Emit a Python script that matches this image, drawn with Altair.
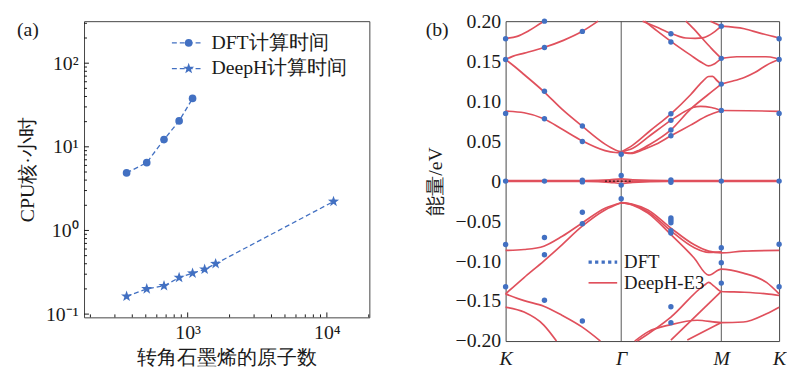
import altair as alt
import pandas as pd

FONT = "Liberation Serif"
BLUE = "#4270c2"
RED = "#e0505c"
INK = "#1a1a1a"
# five-pointed star as an SVG path in the unit square (Vega has no built-in "star")
STAR = ("M0,-1 L0.235,-0.324 L0.951,-0.309 L0.38,0.124 L0.588,0.809 "
        "L0,0.4 L-0.588,0.809 L-0.38,0.124 L-0.951,-0.309 L-0.235,-0.324 Z")

# ---------------- panel (a): timing data ----------------
atoms_dft = [364, 508, 676, 868, 1084]
hours_dft = [4.88, 6.47, 12.2, 20.4, 37.9]
atoms_deeph = [364, 508, 676, 868, 1084, 1324, 1588, 11164]
hours_deeph = [0.163, 0.200, 0.218, 0.273, 0.308, 0.343, 0.400, 2.22]
legend_a = ["DFT计算时间", "DeepH计算时间"]
x_title_a = "转角石墨烯的原子数"
y_title_a = "CPU核·小时"
x_major_a = [1000, 10000]
x_major_labels_a = ["10³", "10⁴"]
x_minor_a = [200, 300, 400, 500, 600, 700, 800, 900,
             2000, 3000, 4000, 5000, 6000, 7000, 8000, 9000, 20000]
y_major_a = [0.1, 1, 10, 100]
y_major_labels_a = ["10⁻¹", "10⁰", "10¹", "10²"]
y_minor_a = [0.2, 0.3, 0.4, 0.5, 0.6, 0.7, 0.8, 0.9,
             2, 3, 4, 5, 6, 7, 8, 9, 20, 30, 40, 50, 60, 70, 80, 90, 200, 300]

# ---------------- panel (b): band structure ----------------
k_pos = [0.0, 1.0, 1.866, 2.366]
k_labels = ["K", "Γ", "M", "K"]
e_ticks = [0.2, 0.15, 0.1, 0.05, 0, -0.05, -0.1, -0.15, -0.2]

C1 = [(0, 0.0875), (0.16, 0.0855), (0.33, 0.078), (0.49, 0.0648), (0.66, 0.0505), (0.86, 0.0381), (0.95, 0.0358), (1.0, 0.0355)]
C2 = [(0, 0.152), (0.08, 0.143), (0.162, 0.133), (0.33, 0.112), (0.49, 0.0896), (0.66, 0.069), (0.86, 0.0463), (0.95, 0.039), (1.0, 0.0365)]
C3 = [(0, 0.152), (0.06, 0.156), (0.162, 0.160), (0.33, 0.167), (0.5, 0.176), (0.66, 0.187), (0.8, 0.2)]
C4 = [(0, 0.1785), (0.1, 0.181), (0.2, 0.188), (0.3, 0.197), (0.335, 0.2)]
L1 = [(1, 0.0365), (1.1, 0.045), (1.25, 0.063), (1.43, 0.0842), (1.6, 0.108), (1.7, 0.124), (1.757, 0.1308), (1.79, 0.131), (1.83, 0.1255), (1.866, 0.1213)]
L2 = [(1, 0.0365), (1.1, 0.041), (1.25, 0.057), (1.43, 0.076), (1.55, 0.087), (1.62, 0.092), (1.687, 0.0935), (1.78, 0.092), (1.866, 0.0883)]
L3 = [(1, 0.0365), (1.08, 0.035), (1.16, 0.039), (1.25, 0.046), (1.43, 0.064), (1.6, 0.090), (1.75, 0.108), (1.866, 0.1213)]
L4 = [(1, 0.0365), (1.08, 0.0345), (1.2, 0.040), (1.3, 0.046), (1.43, 0.0566), (1.6, 0.070), (1.75, 0.082), (1.866, 0.088)]
U1 = [(1.185, 0.2), (1.3, 0.193), (1.43, 0.1847), (1.5, 0.181), (1.559, 0.179), (1.64, 0.1785), (1.715, 0.1795), (1.8, 0.186), (1.866, 0.1938)]
U2 = [(1.202, 0.2), (1.3, 0.189), (1.43, 0.1748), (1.601, 0.1575), (1.7, 0.148), (1.757, 0.144), (1.8, 0.146), (1.866, 0.1534)]
U3 = [(1.559, 0.2), (1.63, 0.19), (1.698, 0.179), (1.78, 0.166), (1.866, 0.1534)]
U4 = [(1.772, 0.2), (1.866, 0.1938)]
M1 = [(1.866, 0.1938), (2.065, 0.1905), (2.2, 0.185), (2.366, 0.179)]
M2 = [(1.866, 0.1534), (2.0, 0.1555), (2.25, 0.1555), (2.33, 0.154), (2.366, 0.152)]
M3 = [(1.866, 0.1213), (1.95, 0.1245), (2.065, 0.1296), (2.16, 0.136), (2.257, 0.145), (2.366, 0.152)]
M4 = [(1.866, 0.0883), (2.1, 0.088), (2.366, 0.0873)]
V1 = [(0, -0.0867), (0.16, -0.0855), (0.33, -0.0814), (0.49, -0.069), (0.66, -0.0526), (0.86, -0.034), (1.0, -0.027)]
V2 = [(0, -0.141), (0.16, -0.1206), (0.33, -0.1), (0.49, -0.0793), (0.66, -0.0567), (0.86, -0.036), (1.0, -0.027)]
V3 = [(0, -0.141), (0.16, -0.1494), (0.33, -0.1564), (0.49, -0.168), (0.66, -0.1823), (0.82, -0.2)]
V4 = [(0, -0.1576), (0.16, -0.1638), (0.33, -0.180), (0.44, -0.2)]
W1 = [(1, -0.027), (1.1, -0.029), (1.231, -0.036), (1.43, -0.0587), (1.629, -0.0793), (1.757, -0.0876), (1.866, -0.0897), (2.057, -0.0876), (2.366, -0.0867)]
W2 = [(1, -0.027), (1.1, -0.0295), (1.231, -0.0382), (1.43, -0.0622), (1.629, -0.083), (1.757, -0.089), (1.866, -0.0885)]
W3 = [(1, -0.027), (1.1, -0.030), (1.231, -0.040), (1.43, -0.0669), (1.629, -0.0958), (1.757, -0.1176), (1.866, -0.110), (2.057, -0.115), (2.257, -0.1267), (2.366, -0.141)]
W4 = [(1.14, -0.2), (1.43, -0.170), (1.72, -0.130), (1.757, -0.1267), (1.8, -0.131), (1.866, -0.138), (2.065, -0.139), (2.257, -0.141), (2.366, -0.143)]
W5 = [(1.43, -0.1987), (1.866, -0.138)]
W6 = [(1.117, -0.2), (1.231, -0.1885), (1.43, -0.1794), (1.658, -0.174), (1.866, -0.1769), (2.057, -0.1762), (2.257, -0.1658), (2.366, -0.1576)]
W7 = [(1.572, -0.1987), (1.866, -0.1769)]
F1 = [(0, 0.0005), (0.7, 0.0005), (0.9, 0.0015), (1.0, 0.0028), (1.1, 0.0015), (1.4, 0.0005), (2.366, 0.0005)]
F2 = [(0, -0.0005), (0.7, -0.0005), (0.9, -0.0015), (1.0, -0.0028), (1.1, -0.0015), (1.4, -0.0005), (2.366, -0.0005)]
F3 = [(0, 0.0), (2.366, 0.0)]
bands = {"C1": C1, "C2": C2, "C3": C3, "C4": C4, "L1": L1, "L2": L2, "L3": L3, "L4": L4,
         "U1": U1, "U2": U2, "U3": U3, "U4": U4, "M1": M1, "M2": M2, "M3": M3, "M4": M4,
         "V1": V1, "V2": V2, "V3": V3, "V4": V4, "W1": W1, "W2": W2, "W3": W3, "W4": W4,
         "W5": W5, "W6": W6, "W7": W7, "F1": F1, "F2": F2, "F3": F3}

dft_k = [0.0, 0.336, 0.664, 1.0, 1.43, 1.866, 2.366]
dft_E = [
    [0.178, 0.152, 0.0847, 0.0, -0.0793, -0.132],
    [0.2, 0.167, 0.1123, 0.078, 0.0, -0.0706, -0.092, -0.149],
    [0.1872, 0.069, 0.0496, 0.001, -0.001, -0.039, -0.0533, -0.175],
    [0.0336, 0.007, -0.005, -0.022],
    [0.1843, 0.174, 0.0842, 0.076, 0.064, 0.0567, 0.0015, -0.0015,
     -0.046, -0.049, -0.052, -0.062, -0.065, -0.157, -0.177],
    [0.1938, 0.1535, 0.1213, 0.0884, 0.0, -0.0834, -0.102, -0.1275],
    [0.178, 0.152, 0.0847, 0.0, -0.079, -0.132],
]
dft_flat_k = [0.86, 1.1]
dft_flat_E = [0.0, 0.0]
legend_b = ["DFT", "DeepH-E3"]


def chain_expr(values, labels, log=False):
    parts = []
    for i in range(len(values) - 1):
        thr = (values[i] * values[i + 1]) ** 0.5 if log else (values[i] + values[i + 1]) / 2
        parts.append(f"datum.value < {thr:.4f} ? '{labels[i]}'")
    return " : ".join(parts) + f" : '{labels[-1]}'"


common_axis = dict(ticks=False, domain=False, grid=False, labelOverlap=False,
                   labelFont=FONT, titleFont=FONT, labelColor=INK, titleColor=INK,
                   titleFontWeight="normal", labelFontSize=20, titleFontSize=20)

# ---------------- build panel (a) ----------------
W_A, H_A = 289, 300
xs_a = alt.Scale(type="log", domain=[180, 20200], nice=False)
ys_a = alt.Scale(type="log", domain=[0.0914, 318], nice=False)
axis_xa = alt.Axis(values=x_major_a, labelExpr=chain_expr(x_major_a, x_major_labels_a, True),
                   labelFlush=False, labelPadding=5, title=x_title_a, titlePadding=6, **common_axis)
axis_ya = alt.Axis(values=y_major_a, labelExpr=chain_expr(y_major_a, y_major_labels_a, True),
                   labelPadding=6, title=y_title_a, titlePadding=8, **common_axis)


def XA(f):
    return alt.X(f, type="quantitative", scale=xs_a, axis=axis_xa)


def YA(f):
    return alt.Y(f, type="quantitative", scale=ys_a, axis=axis_ya)


df_dft = pd.DataFrame({"atoms": atoms_dft, "hours": hours_dft})
df_deeph = pd.DataFrame({"atoms": atoms_deeph, "hours": hours_deeph})
one = pd.DataFrame({"t": [""]})

line_dft = alt.Chart(df_dft).mark_line(color=BLUE, strokeDash=[5, 3], strokeWidth=1.3).encode(x=XA("atoms"), y=YA("hours"))
line_deeph = alt.Chart(df_deeph).mark_line(color=BLUE, strokeDash=[5, 3], strokeWidth=1.3).encode(x=XA("atoms"), y=YA("hours"))
pts_dft = alt.Chart(df_dft).mark_point(filled=True, opacity=1, color=BLUE, shape="circle", size=60).encode(x=XA("atoms"), y=YA("hours"))
pts_deeph = alt.Chart(df_deeph).mark_point(filled=True, opacity=1, color=BLUE, shape=STAR, size=140).encode(x=XA("atoms"), y=YA("hours"))

tick_y_major = alt.Chart(pd.DataFrame({"v": y_major_a})).mark_rule(color=INK).encode(y=YA("v"), x=alt.value(0), x2=alt.value(5))
tick_y_minor = alt.Chart(pd.DataFrame({"v": y_minor_a})).mark_rule(color=INK).encode(y=YA("v"), x=alt.value(0), x2=alt.value(3))
tick_x_major = alt.Chart(pd.DataFrame({"v": x_major_a})).mark_rule(color=INK).encode(x=XA("v"), y=alt.value(H_A), y2=alt.value(H_A - 5))
tick_x_minor = alt.Chart(pd.DataFrame({"v": x_minor_a})).mark_rule(color=INK).encode(x=XA("v"), y=alt.value(H_A), y2=alt.value(H_A - 3))

# invisible anchor that sets the top-left extent of panel (a)
anchor_a = alt.Chart(one).mark_rule(opacity=0).encode(x=alt.value(-76), x2=alt.value(-75), y=alt.value(-10))


def legend_row_a(y, label, shape, size):
    base = alt.Chart(pd.DataFrame({"t": [label]}))
    r = base.mark_rule(color=BLUE, strokeDash=[5, 3], strokeWidth=1.3).encode(x=alt.value(89), x2=alt.value(121), y=alt.value(y))
    p = base.mark_point(filled=True, opacity=1, color=BLUE, shape=shape, size=size).encode(x=alt.value(106), y=alt.value(y))
    t = base.mark_text(align="left", baseline="middle", font=FONT, fontSize=20, color=INK).encode(x=alt.value(129), y=alt.value(y), text="t:N")
    return [r, p, t]


tag_a = alt.Chart(pd.DataFrame({"t": ["(a)"]})).mark_text(align="left", baseline="middle", font=FONT, fontSize=20, color=INK).encode(
    x=alt.value(-68), y=alt.value(9), text="t:N")

panel_a = alt.layer(
    anchor_a, tick_y_minor, tick_y_major, tick_x_minor, tick_x_major,
    line_dft, line_deeph, pts_dft, pts_deeph,
    *legend_row_a(22, legend_a[0], "circle", 60),
    *legend_row_a(48, legend_a[1], STAR, 140),
    tag_a,
).properties(width=W_A, height=H_A)

# ---------------- build panel (b) ----------------
W_B, H_B = 277, 324
xs_b = alt.Scale(domain=[0, 2.366], nice=False, zero=False)
ys_b = alt.Scale(domain=[-0.2, 0.2], nice=False, zero=False)
axis_xb = alt.Axis(values=k_pos, labelExpr=chain_expr(k_pos, k_labels), labelFontStyle="italic",
                   labelFlush=False, labelPadding=8, title="", **common_axis)
axis_yb = alt.Axis(values=e_ticks, labelExpr="datum.value == 0 ? '0' : format(datum.value, '.2f')",
                   labelPadding=5, title="能量/eV", titlePadding=10, **common_axis)


def XB(f):
    return alt.X(f, type="quantitative", scale=xs_b, axis=axis_xb)


def YB(f):
    return alt.Y(f, type="quantitative", scale=ys_b, axis=axis_yb)


rows = []
for name, pts in bands.items():
    for k, e in pts:
        rows.append({"band": name, "k": k, "E": e})
df_bands = pd.DataFrame(rows)

dots = []
for k, es in zip(dft_k, dft_E):
    for e in es:
        dots.append({"k": k, "E": e})
df_dots = pd.DataFrame(dots)

sym_rules = alt.Chart(pd.DataFrame({"k": k_pos[1:3]})).mark_rule(color="#555", strokeWidth=1).encode(x=XB("k"))
band_lines = alt.Chart(df_bands).mark_line(color=RED, strokeWidth=1.7, interpolate="monotone").encode(
    x=XB("k"), y=YB("E"), detail="band:N")
dft_dots = alt.Chart(df_dots).mark_circle(color=BLUE, size=30, opacity=1).encode(x=XB("k"), y=YB("E"))
dft_flat = alt.Chart(pd.DataFrame({"k": dft_flat_k, "E": dft_flat_E})).mark_line(
    color="black", strokeDash=[2, 2], strokeWidth=1).encode(x=XB("k"), y=YB("E"))

leg_b_base1 = alt.Chart(pd.DataFrame({"t": [legend_b[0]]}))
leg_b_base2 = alt.Chart(pd.DataFrame({"t": [legend_b[1]]}))
leg_b = [
    leg_b_base1.mark_rule(color=BLUE, strokeDash=[3.3, 3.3], strokeWidth=3.3).encode(x=alt.value(84), x2=alt.value(113), y=alt.value(244)),
    leg_b_base1.mark_text(align="left", baseline="middle", font=FONT, fontSize=19, color=INK).encode(x=alt.value(120), y=alt.value(244), text="t:N"),
    leg_b_base2.mark_rule(color=RED, strokeWidth=1.7).encode(x=alt.value(84), x2=alt.value(113), y=alt.value(265)),
    leg_b_base2.mark_text(align="left", baseline="middle", font=FONT, fontSize=19, color=INK).encode(x=alt.value(120), y=alt.value(265), text="t:N"),
]
tag_b = alt.Chart(pd.DataFrame({"t": ["(b)"]})).mark_text(align="left", baseline="middle", font=FONT, fontSize=20, color=INK).encode(
    x=alt.value(-81), y=alt.value(9), text="t:N")

panel_b = alt.layer(
    sym_rules, band_lines, dft_flat, dft_dots, *leg_b, tag_b
).properties(width=W_B, height=H_B)

chart = alt.hconcat(panel_a, panel_b, spacing=55).properties(padding=0).configure_view(stroke="#444", strokeWidth=1)

chart.save("out.html", embed_options={"renderer": "svg", "actions": False})
